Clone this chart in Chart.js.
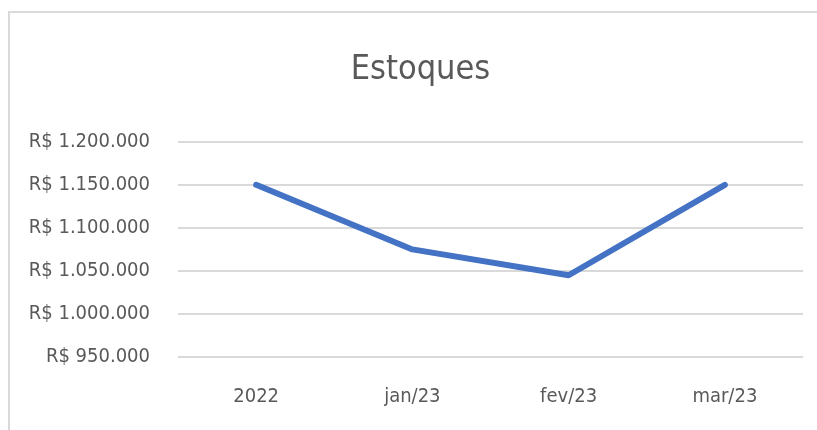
<!DOCTYPE html>
<html>
<head>
<meta charset="utf-8">
<script src="https://cdn.jsdelivr.net/npm/chart.js@4"></script>
<style>
  body { margin: 0; background: #fff; }
  #box { position: relative; width: 817px; height: 430px; }
  #borda { position: absolute; left: 8px; top: 11px; right: -4px; bottom: -4px;
           border-left: 2px solid #d9d9d9; border-top: 2px solid #d9d9d9; pointer-events: none; }
</style>
</head>
<body>
<div id="box">
  <canvas id="grafico" width="817" height="430"></canvas>
  <div id="borda"></div>
</div>
<script>
const categorias = ['2022', 'jan/23', 'fev/23', 'mar/23'];
const estoques = [1150000, 1075000, 1045000, 1150000];
const eixoMin = 950000;
const eixoMax = 1200000;
const eixoPasso = 50000;

const fonte = "'Liberation Sans Narrow', 'Arial Narrow', 'DejaVu Sans Condensed', sans-serif";
const corTexto = '#595959';

function formatarReais(v) {
    return 'R$ ' + String(v).replace(/\B(?=(\d{3})+(?!\d))/g, '.');
}

// centraliza o titulo um pouco mais a direita, como no Excel
const moverTitulo = {
    id: 'moverTitulo',
    afterLayout(chart) {
        if (chart.titleBlock) chart.titleBlock.left = 38;
    }
};

const ctx = document.getElementById('grafico').getContext('2d');

new Chart(ctx, {
    type: 'line',
    data: {
        labels: categorias,
        datasets: [{
            label: 'Estoques',
            data: estoques,
            borderColor: '#4472C4',
            backgroundColor: '#4472C4',
            borderWidth: 6,
            borderCapStyle: 'round',
            borderJoinStyle: 'round',
            pointRadius: 0,
            tension: 0
        }]
    },
    options: {
        responsive: false,
        animation: false,
        layout: { padding: { left: 0, right: 14, top: 0, bottom: 19 } },
        plugins: {
            legend: { display: false },
            tooltip: { enabled: false },
            title: {
                display: true,
                text: 'Estoques',
                color: corTexto,
                font: { family: fonte, size: 34, weight: 'normal' },
                padding: { top: 50, bottom: 51 }
            }
        },
        scales: {
            x: {
                offset: true,
                afterFit: function(scale) { scale.height = 54; },
                grid: { display: false, drawTicks: false },
                border: { display: false },
                ticks: { color: corTexto, font: { family: fonte, size: 20 }, padding: 28, maxRotation: 0 }
            },
            y: {
                min: eixoMin,
                max: eixoMax,
                afterFit: function(scale) { scale.width = 178; },
                grid: { color: '#d9d9d9', lineWidth: 2, drawTicks: false },
                border: { display: false },
                ticks: {
                    stepSize: eixoPasso,
                    color: corTexto,
                    font: { family: fonte, size: 20 },
                    padding: 28,
                    callback: function(v) { return formatarReais(v); }
                }
            }
        }
    },
    plugins: [moverTitulo]
});
</script>
</body>
</html>
